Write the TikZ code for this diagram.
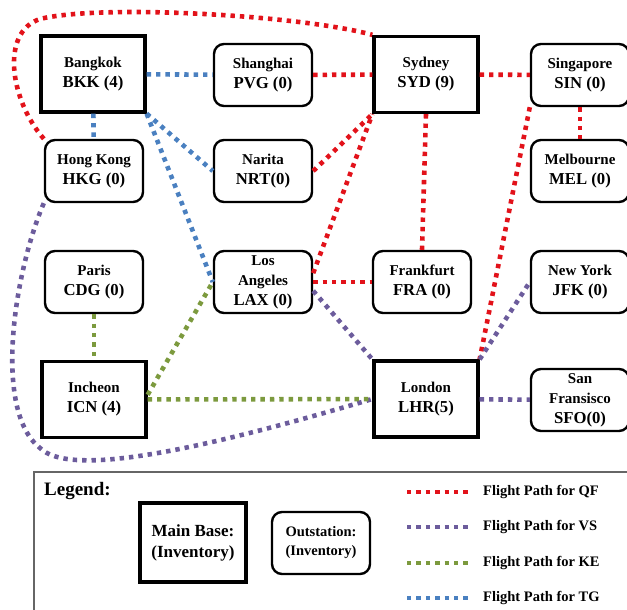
\documentclass[tikz,border=0pt]{standalone}
\usepackage{fontspec}
\setmainfont{Liberation Serif}
\newcommand{\codesz}{\fontsize{16.7}{20}\selectfont}
\definecolor{qfred}{RGB}{226,18,26}
\definecolor{vspurple}{RGB}{108,92,156}
\definecolor{kegreen}{RGB}{124,154,62}
\definecolor{tgblue}{RGB}{74,128,192}
\begin{document}
\begin{tikzpicture}[
    x=1pt, y=-1pt,
    base/.style={rectangle, draw, line width=3.3pt, minimum width=104pt, minimum height=76pt, align=center, inner sep=2pt, font=\bfseries\fontsize{15}{20}\selectfont},
    outstation/.style={rectangle, draw, line width=2.4pt, rounded corners=10pt, minimum width=98pt, minimum height=62pt, align=center, inner sep=2pt, font=\bfseries\fontsize{15}{20}\selectfont},
    flight/.style={line width=4.6pt, dash pattern=on 4.4pt off 5pt},
    qf/.style={flight, draw=qfred},
    vs/.style={flight, draw=vspurple},
    ke/.style={flight, draw=kegreen},
    tg/.style={flight, draw=tgblue}
]
    \useasboundingbox (0,0) rectangle (627,610);

    % Main bases
    \node[base] (bkk) at (93,74) {Bangkok\\{\codesz BKK (4)}};
    \node[base] (syd) at (426,74.5) {Sydney\\{\codesz SYD (9)}};
    \node[base] (icn) at (94,399.5) {Incheon\\{\codesz ICN (4)}};
    \node[base] (lhr) at (426,399) {London\\{\codesz LHR(5)}};

    % Outstations
    \node[outstation] (pvg) at (263,75) {Shanghai\\{\codesz PVG (0)}};
    \node[outstation] (sin) at (580,75) {Singapore\\{\codesz SIN (0)}};
    \node[outstation] (hkg) at (94,171) {Hong Kong\\{\codesz HKG (0)}};
    \node[outstation] (nrt) at (263,171) {Narita\\{\codesz NRT(0)}};
    \node[outstation] (mel) at (580,171) {Melbourne\\{\codesz MEL (0)}};
    \node[outstation] (cdg) at (94,282) {Paris\\{\codesz CDG (0)}};
    \node[outstation] (lax) at (263,282) {Los\\Angeles\\{\codesz LAX (0)}};
    \node[outstation] (fra) at (422,282) {Frankfurt\\{\codesz FRA (0)}};
    \node[outstation] (jfk) at (580,282) {New York\\{\codesz JFK (0)}};
    \node[outstation] (sfo) at (580,400) {San\\Fransisco\\{\codesz SFO(0)}};

    % QF
    \draw[qf] (hkg.north west) .. controls (10,100) and (0,32) .. (40,19)
        .. controls (100,4) and (300,15) .. (syd.north west);
    \draw[qf] (pvg) -- (syd);
    \draw[qf] (nrt.east) -- (syd.south west);
    \draw[qf] (lax.10) -- (syd.south west);
    \draw[qf] (lax.east) -- (fra.west);
    \draw[qf] (syd.south) -- (fra.north);
    \draw[qf] (syd) -- (sin);
    \draw[qf] (sin) -- (mel);
    \draw[qf] (sin.south west) -- (lhr.north east);

    % VS
    \draw[vs] (hkg.south west) .. controls (15,270) and (-8,410) .. (40,448)
        .. controls (70,478) and (200,450) .. (lhr.west);
    \draw[vs] (lax.-10) -- (lhr.north west);
    \draw[vs] (lhr.north east) -- (jfk.west);
    \draw[vs] (lhr) -- (sfo);

    % KE
    \draw[ke] (cdg) -- (icn);
    \draw[ke] (icn.5) -- (lax.west);
    \draw[ke] (icn) -- (lhr);

    % TG
    \draw[tg] (bkk) -- (pvg);
    \draw[tg] (bkk) -- (hkg);
    \draw[tg] (bkk.south east) -- (nrt.west);
    \draw[tg] (bkk.south east) -- (lax.west);

    % Legend
    \draw[draw=black!60, line width=1.5pt] (34,472) rectangle (640,625);
    \node[anchor=west, inner sep=0pt, font=\bfseries\fontsize{19}{22}\selectfont] (legend) at (44,491) {Legend:};
    \node[base, minimum width=106pt, minimum height=79pt, font=\bfseries\fontsize{17}{21}\selectfont] (legbase) at (193,542.5) {Main Base:\\(Inventory)};
    \node[outstation, font=\bfseries\fontsize{14.5}{19}\selectfont] (legout) at (321,543) {Outstation:\\(Inventory)};
    \foreach \sty/\yy/\lab in {qf/492/QF, vs/527/VS, ke/563/KE, tg/598/TG} {
        \node[anchor=west, inner sep=0pt, font=\bfseries\fontsize{14.5}{17}\selectfont] (leg\lab) at (483,\yy) {Flight Path for \lab};
        \coordinate (leg\lab start) at (407,\yy);
        \draw[\sty, line width=3.8pt] (leg\lab start) -- ([xshift=-14pt]leg\lab.west);
    }
\end{tikzpicture}
\end{document}
